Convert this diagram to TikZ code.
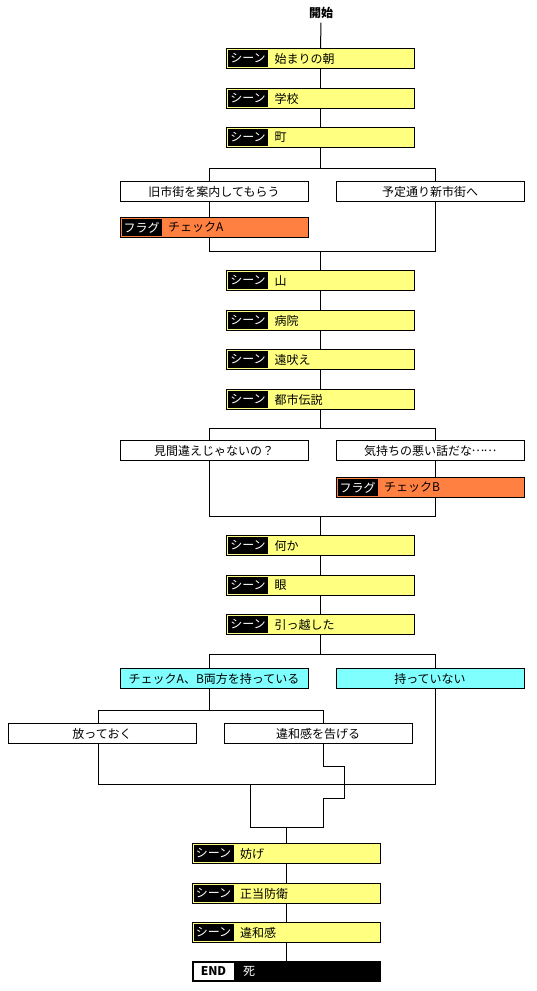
\documentclass[tikz,border=0pt]{standalone}
\usepackage{fontspec}
\setmainfont{Noto Sans CJK JP}
\usepackage{tikz}
\definecolor{sceneyellow}{RGB}{255,255,128}
\definecolor{flagorange}{RGB}{255,128,64}
\definecolor{choicecyan}{RGB}{128,255,255}
\newcommand\middots{\makebox[1em]{\raisebox{.33em}{…}}}

\begin{document}
\begin{tikzpicture}[x=1pt, y=-1pt, line width=1pt,
    font=\fontsize{12}{14}\selectfont,
    box/.style={draw, minimum width=188, minimum height=20, inner sep=0},
    scene/.style={box, fill=sceneyellow},
    flag/.style={box, fill=flagorange},
    choice/.style={box, fill=white},
    pick/.style={box, fill=choicecyan},
    finish/.style={box, fill=black},
    tag/.style={fill=black, text=white, minimum width=40, minimum height=17, inner sep=0, anchor=west},
    caption/.style={anchor=west, inner sep=0}]
    \useasboundingbox (0,0) rectangle (536,991);

    \node[font=\fontsize{12}{14}\selectfont\bfseries] (start) at (321,13) {開始};

    % scenes
    \foreach \n/\x/\y/\t in {s1/320.5/58.5/始まりの朝, s2/320.5/98.5/学校, s3/320.5/137.5/町,
        s4/320.5/280.5/山, s5/320.5/320.5/病院, s6/320.5/359.5/遠吠え, s7/320.5/399.5/都市伝説,
        s8/320.5/545.5/何か, s9/320.5/585.5/眼, s10/320.5/624.5/引っ越した,
        s11/286/853.5/妨げ, s12/286/893.5/正当防衛, s13/286/932.5/違和感} {
        \node[scene] (\n) at (\x,\y) {};
        \node[tag] (\n-tag) at ([xshift=1.5]\n.west) {シーン};
        \node[caption] (\n-txt) at ([xshift=48]\n.west) {\t};
    }

    % flags
    \foreach \n/\x/\y/\t in {fA/214/227.5/チェックA, fB/430/487.5/チェックB} {
        \node[flag] (\n) at (\x,\y) {};
        \node[tag] (\n-tag) at ([xshift=1.5]\n.west) {フラグ};
        \node[caption] (\n-txt) at ([xshift=48]\n.west) {\t};
    }

    % choices
    \node[choice] (c1) at (214,191.5) {旧市街を案内してもらう};
    \node[choice] (c2) at (430,191.5) {予定通り新市街へ};
    \node[choice] (c3) at (214,450.5) {見間違えじゃないの？};
    \node[choice] (c4) at (430,450.5) {気持ちの悪い話だな\middots\middots};
    \node[pick] (c5) at (214,678.5) {チェックA、B両方を持っている};
    \node[pick] (c6) at (430,678.5) {持っていない};
    \node[choice] (c7) at (102,733.5) {放っておく};
    \node[choice] (c8) at (318,733.5) {違和感を告げる};

    % end
    \node[finish] (end) at (286,971.5) {};
    \node[tag, fill=white, text=black, font=\fontsize{12}{14}\selectfont\bfseries] (end-tag) at ([xshift=1.5]end.west) {END};
    \node[caption, text=white] (end-txt) at ([xshift=51]end.west) {死};

    % junctions
    \coordinate (b1) at (320.5,168.5);
    \coordinate (m1) at (320.5,251.5);
    \coordinate (b2) at (320.5,428.5);
    \coordinate (m2) at (320.5,516.5);
    \coordinate (b3) at (320.5,654.5);
    \coordinate (b4) at (209.5,710.5);
    \coordinate (m3) at (435.5,784.5);
    \coordinate (m4) at (286,827.5);

    \draw (start) -- (s1);
    \foreach \a/\b in {s1/s2, s2/s3, s4/s5, s5/s6, s6/s7, s8/s9, s9/s10, s11/s12, s12/s13, s13/end}
        \draw (\a) -- (\b);

    % first branch
    \draw (s3) -- (b1);
    \draw (b1) -| ([xshift=-4.5]c1.north);
    \draw (b1) -| ([xshift=5.5]c2.north);
    \draw ([xshift=-4.5]c1.south) -- ([xshift=-4.5]fA.north);
    \draw ([xshift=-4.5]fA.south) |- (m1);
    \draw ([xshift=5.5]c2.south) |- (m1);
    \draw (m1) -- (s4);

    % second branch
    \draw (s7) -- (b2);
    \draw (b2) -| ([xshift=-4.5]c3.north);
    \draw (b2) -| ([xshift=5.5]c4.north);
    \draw ([xshift=5.5]c4.south) -- ([xshift=5.5]fB.north);
    \draw ([xshift=-4.5]c3.south) |- (m2);
    \draw ([xshift=5.5]fB.south) |- (m2);
    \draw (m2) -- (s8);

    % third branch
    \draw (s10) -- (b3);
    \draw (b3) -| ([xshift=-4.5]c5.north);
    \draw (b3) -| ([xshift=5.5]c6.north);
    \draw ([xshift=-4.5]c5.south) -- (b4);
    \draw (b4) -| ([xshift=-4]c7.north);
    \draw (b4) -| ([xshift=5.5]c8.north);
    \draw ([xshift=-4]c7.south) |- (m3) -- ([xshift=5.5]c6.south);
    \draw ([xshift=5.5]c8.south) -- ++(0,22) -- ++(21,0) -- ++(0,32) -- ++(-21,0) |- (m4)
        -| (250.5,784.5);
    \draw (m4) -- (s11);
\end{tikzpicture}
\end{document}
